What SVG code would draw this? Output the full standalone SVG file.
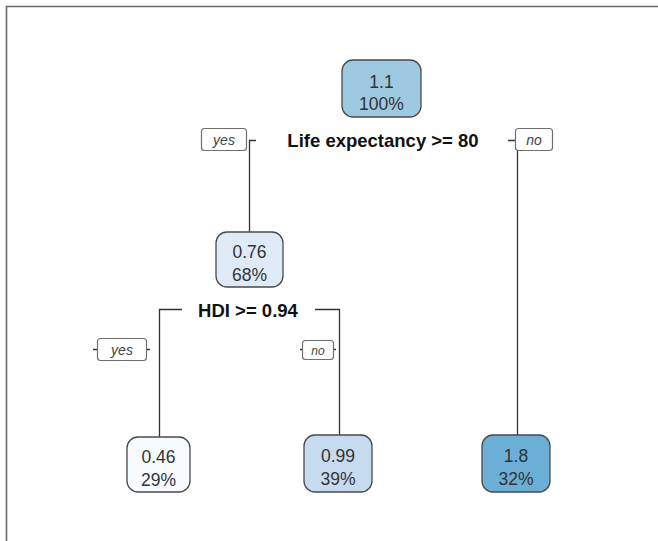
<svg xmlns="http://www.w3.org/2000/svg" width="658" height="541" viewBox="0 0 658 541">
<style>
.frame{fill:none;stroke:#6a6a6a;stroke-width:1.6}
.node{stroke:#4a4a4a;stroke-width:1.3}
.val{font-family:"Liberation Sans",Arial,sans-serif;font-size:17.5px;fill:#333;text-anchor:middle}
.split{font-family:"Liberation Sans",Arial,sans-serif;font-size:18.5px;font-weight:bold;fill:#111;text-anchor:middle}
.yn{fill:#fff;stroke:#707070;stroke-width:1.2}
.yntxt{font-family:"Liberation Sans",Arial,sans-serif;font-style:italic;fill:#444;text-anchor:middle}
.edge{fill:none;stroke:#333;stroke-width:1.3}
</style>
<rect width="658" height="541" fill="#fff"/>
<path class="frame" d="M6.5,541 V6.5 H658"/>
<g id="connectors">
<path class="edge" d="M256,140.5 H249.5 V233"/>
<path class="edge" d="M508,140.5 H517.5 V436"/>
<path class="edge" d="M182,309.5 H159.5 V438"/>
<path class="edge" d="M315,309.5 H339.5 V435"/>
<path class="edge" d="M93,349.5 H97 M147,349.5 H150"/>
<path class="edge" d="M300,349.5 H302 M334,349.5 H336"/>
</g>
<g id="root">
<rect class="node" x="342" y="60" width="79" height="57" rx="11" fill="#9ecae1"/>
<text class="val" x="381.5" y="88">1.1</text>
<text class="val" x="381.5" y="110">100%</text>
</g>
<g id="split1">
<text class="split" x="383" y="147">Life expectancy &gt;= 80</text>
</g>
<g id="yes1">
<rect class="yn" x="201.5" y="128.5" width="45" height="22" rx="3"/>
<text class="yntxt" x="224" y="145" font-size="14">yes</text>
</g>
<g id="no1">
<rect class="yn" x="515.5" y="128.5" width="37" height="22" rx="3"/>
<text class="yntxt" x="534" y="145" font-size="14">no</text>
</g>
<g id="node2">
<rect class="node" x="216" y="232" width="67" height="55" rx="11" fill="#deebf7"/>
<text class="val" x="249.5" y="258">0.76</text>
<text class="val" x="249.5" y="281">68%</text>
</g>
<g id="split2">
<text class="split" x="248" y="317">HDI &gt;= 0.94</text>
</g>
<g id="yes2">
<rect class="yn" x="97.5" y="338.5" width="49" height="22" rx="3"/>
<text class="yntxt" x="122" y="355" font-size="14">yes</text>
</g>
<g id="no2">
<rect class="yn" x="302.5" y="340.5" width="31" height="19" rx="3"/>
<text class="yntxt" x="318" y="354.5" font-size="12">no</text>
</g>
<g id="leaf1">
<rect class="node" x="127" y="437" width="63" height="55" rx="11" fill="#f7fbff"/>
<text class="val" x="158.5" y="463">0.46</text>
<text class="val" x="158.5" y="486">29%</text>
</g>
<g id="leaf2">
<rect class="node" x="304" y="435" width="68" height="57" rx="11" fill="#c6dbef"/>
<text class="val" x="338" y="462">0.99</text>
<text class="val" x="338" y="485">39%</text>
</g>
<g id="leaf3">
<rect class="node" x="482" y="435" width="68" height="57" rx="11" fill="#6baed6"/>
<text class="val" x="516" y="462">1.8</text>
<text class="val" x="516" y="485">32%</text>
</g>
</svg>
